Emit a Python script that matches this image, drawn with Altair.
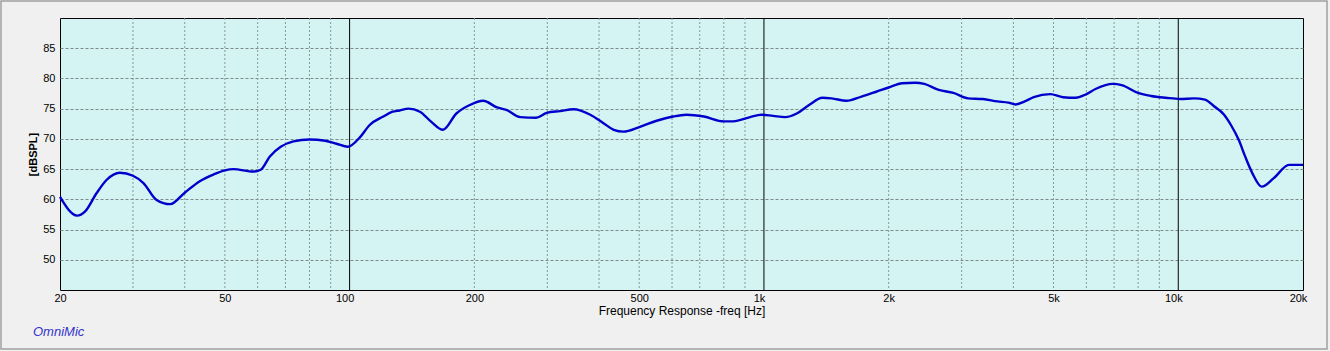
import altair as alt
import pandas as pd

# Frequency response readings (Hz, dB SPL)
freq = [20, 22.0, 23.0, 24.5, 25.9, 27.9, 30, 31.8, 34.2, 36.9, 40, 43.5, 46.9, 50, 52.4,
        58.6, 61, 64.2, 68.2, 73.2, 80, 87.3, 93, 99, 106, 111.8, 120.6, 127, 132, 138.7,
        147.8, 157, 168, 181, 195, 210, 227, 239, 258, 282, 299, 322, 347, 381, 410, 434,
        458, 502, 551, 603, 650, 716, 800, 843, 926, 986, 1052, 1126, 1200, 1285, 1384,
        1456, 1582, 1720, 1866, 2000, 2156, 2316, 2438, 2642, 2866, 3110, 3374, 3660, 3890,
        4050, 4260, 4480, 4910, 5270, 5660, 5960, 6330, 6940, 7300, 8000, 8600, 9340, 10100,
        10920, 11600, 12200, 12900, 13400, 14000, 14500, 15100, 15900, 17000, 18500, 20000]
spl = [60.4, 57.3, 58.0, 61.0, 63.2, 64.4, 63.9, 62.7, 59.9, 59.2, 61.1, 63.0, 64.1, 64.8, 65.0,
       64.6, 64.9, 67.1, 68.7, 69.6, 69.9, 69.7, 69.2, 68.7, 70.3, 72.3, 73.7, 74.5, 74.7, 75.0,
       74.5, 72.9, 71.5, 74.2, 75.6, 76.3, 75.2, 74.8, 73.6, 73.5, 74.3, 74.6, 74.9, 74.0, 72.6, 71.5,
       71.2, 72.0, 73.0, 73.7, 74.0, 73.7, 72.9, 72.9, 73.6, 74.0, 73.8, 73.6, 74.2, 75.6, 76.8,
       76.7, 76.3, 77.0, 77.8, 78.5, 79.2, 79.3, 79.1, 78.1, 77.6, 76.7, 76.6, 76.2, 76.0,
       75.7, 76.2, 76.9, 77.4, 76.9, 76.8, 77.3, 78.3, 79.1, 78.9, 77.6, 77.1, 76.8, 76.6,
       76.7, 76.5, 75.4, 74.0, 72.3, 69.8, 67.1, 64.3, 62.1, 63.5, 65.7, 65.7]

x_tick_values = [20, 50, 100, 200, 500, 1000, 2000, 5000, 10000, 20000]
x_tick_labels = ["20", "50", "100", "200", "500", "1k", "2k", "5k", "10k", "20k"]
y_tick_values = [50, 55, 60, 65, 70, 75, 80, 85]
minor_grid = [30, 40, 50, 60, 70, 80, 90,
              200, 300, 400, 500, 600, 700, 800, 900,
              2000, 3000, 4000, 5000, 6000, 7000, 8000, 9000]
major_grid = [100, 1000, 10000]

FONT = "Liberation Sans"

label_expr = "''"
for v, l in zip(reversed(x_tick_values), reversed(x_tick_labels)):
    label_expr = f"datum.value == {v} ? '{l}' : ({label_expr})"

xscale = alt.Scale(type="log", domain=[20, 20000], nice=False)
yscale = alt.Scale(domain=[45, 90], nice=False, zero=False)

df = pd.DataFrame({"freq": freq, "spl": spl})

base_x = alt.X(
    "freq:Q", scale=xscale,
    axis=alt.Axis(values=x_tick_values, labelExpr=label_expr, grid=False, ticks=False,
                  domain=False, labelPadding=2, labelFontSize=11, labelFont=FONT,
                  labelColor="black", labelFlush=False, labelOverlap=False,
                  title="Frequency Response -freq [Hz]",
                  titleFont=FONT, titleFontSize=12, titleFontWeight="normal",
                  titleColor="black", titlePadding=2,
                  labelOffset={"condition": {"test": "datum.value == 100 || datum.value == 1000 || datum.value == 10000 || datum.value == 20000", "value": -5},
                               "value": 0}),
)
base_y = alt.Y(
    "spl:Q", scale=yscale,
    axis=alt.Axis(values=y_tick_values, grid=True, gridDash=[3, 2], gridColor="#7f8a8a",
                  gridWidth=1, ticks=False, domain=False, labelPadding=5, labelFontSize=11,
                  labelFont=FONT, labelColor="black", title="[dBSPL]", titleFont=FONT,
                  titleFontSize=11, titleFontWeight="bold", titleColor="black", titlePadding=4),
)

line = alt.Chart(df).mark_line(color="#0000cc", strokeWidth=2.4, interpolate="monotone").encode(
    x=base_x, y=base_y
)

minor = alt.Chart(pd.DataFrame({"f": minor_grid})).mark_rule(
    color="#8a9696", strokeDash=[2, 2], strokeWidth=1
).encode(x=alt.X("f:Q", scale=xscale))

major = alt.Chart(pd.DataFrame({"f": major_grid})).mark_rule(
    color="black", strokeWidth=1
).encode(x=alt.X("f:Q", scale=xscale))

brand = alt.Chart(pd.DataFrame({"t": ["OmniMic"]})).mark_text(
    align="left", baseline="middle", font=FONT, fontSize=13, fontStyle="italic", color="#3333cc"
).encode(text="t:N", x=alt.value(-27), y=alt.value(314))

frame = alt.Chart(pd.DataFrame({"t": [1]})).mark_rect(
    fill=None, fillOpacity=0, stroke="#a0a0a0", strokeWidth=1.5
).encode(x=alt.value(-59), x2=alt.value(1267), y=alt.value(-17), y2=alt.value(331))

chart = alt.layer(minor, major, line, brand, frame).properties(
    width=1243, height=272,
    padding={"left": 60, "top": 18, "right": 27, "bottom": 61},
    autosize=alt.AutoSizeParams(type="none"),
    background="#f0f0f0",
).configure_view(fill="#d4f4f4", stroke="black", strokeWidth=1)

chart.save("out.html", embed_options={"renderer": "svg", "actions": False})
